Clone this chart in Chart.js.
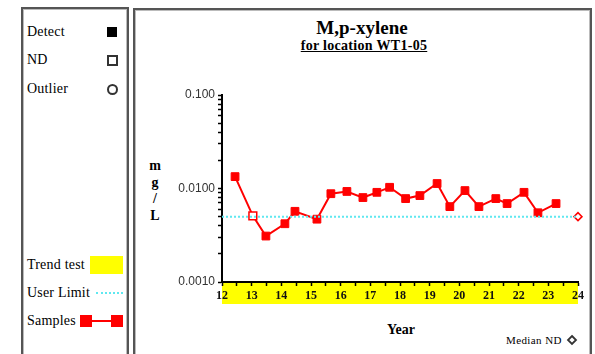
<!DOCTYPE html>
<html>
<head>
<meta charset="utf-8">
<script src="https://cdn.jsdelivr.net/npm/chart.js@4"></script>
<style>
  body { margin: 0; background: #fff; }
  #page { position: relative; width: 595px; height: 354px; overflow: hidden; font-family: "Liberation Serif", "Times New Roman", serif; color: #000; }
  .box { position: absolute; box-sizing: border-box; border: 2px solid #555; box-shadow: inset 0 0 0 1px #bbb; }
  .txt { position: absolute; white-space: nowrap; line-height: 1; }
  .leg { font-size: 14px; left: 27px; transform: translateY(-50%); letter-spacing: 0.2px; }
  canvas { position: absolute; left: 0; top: 0; }
</style>
</head>
<body>
<div id="page">
  <div class="box" style="left:21px;top:7px;width:108px;height:370px;"></div>
  <div class="box" style="left:133px;top:8px;width:459px;height:370px;"></div>

  <!-- legend panel -->
  <div class="txt leg" style="top:32px;">Detect</div>
  <div style="position:absolute;left:107px;top:27px;width:10px;height:10px;background:#000;"></div>
  <div class="txt leg" style="top:60px;">ND</div>
  <div style="position:absolute;left:107px;top:55px;width:7px;height:7px;border:2px solid #333;"></div>
  <div class="txt leg" style="top:89px;">Outlier</div>
  <div style="position:absolute;left:107px;top:84px;width:7px;height:7px;border:2px solid #333;border-radius:50%;"></div>

  <div class="txt leg" style="top:265px;">Trend test</div>
  <div style="position:absolute;left:90px;top:256px;width:33px;height:18px;background:#ffff00;"></div>
  <div class="txt leg" style="top:293px;">User Limit</div>
  <div style="position:absolute;left:96px;top:292px;width:27px;height:0;border-top:2px dotted #5ee8f0;"></div>
  <div class="txt leg" style="top:321px;">Samples</div>
  <div style="position:absolute;left:90px;top:320px;width:28px;height:2px;background:#ff0000;"></div>
  <div style="position:absolute;left:80px;top:315px;width:12px;height:12px;background:#ff0000;"></div>
  <div style="position:absolute;left:111px;top:315px;width:12px;height:12px;background:#ff0000;"></div>

  <!-- titles -->
  <div class="txt" style="left:362px;top:27px;transform:translate(-50%,-50%);font-size:19px;font-weight:bold;">M,p-xylene</div>
  <div class="txt" style="left:364px;top:46px;transform:translate(-50%,-50%);font-size:14px;font-weight:bold;text-decoration:underline;letter-spacing:0.3px;">for location WT1-05</div>

  <!-- y axis title, stacked -->
  <div class="txt" style="left:155px;top:166px;transform:translate(-50%,-50%);font-size:14px;font-weight:bold;">m</div>
  <div class="txt" style="left:155px;top:183px;transform:translate(-50%,-50%);font-size:14px;font-weight:bold;">g</div>
  <div class="txt" style="left:155px;top:199px;transform:translate(-50%,-50%);font-size:14px;font-weight:bold;">/</div>
  <div class="txt" style="left:155px;top:216px;transform:translate(-50%,-50%);font-size:14px;font-weight:bold;">L</div>

  <div class="txt" style="left:401px;top:330px;transform:translate(-50%,-50%);font-size:14px;font-weight:bold;">Year</div>
  <div class="txt" style="left:506px;top:340px;transform:translateY(-50%);font-size:11px;letter-spacing:0.4px;">Median ND</div>

  <canvas id="chart" width="595" height="354"></canvas>
</div>

<script>
// sample dates (decimal year, 2-digit) and concentrations in mg/L
const sampleYears = [12.44, 13.04, 13.48, 14.12, 14.46, 15.20, 15.67, 16.21, 16.75, 17.22, 17.65,
                     18.19, 18.67, 19.25, 19.68, 20.19, 20.66, 21.23, 21.61, 22.18, 22.65, 23.26];
const sampleValues = [0.0134, 0.0051, 0.0031, 0.0042, 0.0057, 0.0047, 0.0088, 0.0093, 0.0080, 0.0091, 0.0103,
                      0.0078, 0.0084, 0.0113, 0.0064, 0.0095, 0.0064, 0.0078, 0.0069, 0.0091, 0.0055, 0.0069];
// true = non-detect
const sampleND = [false, true, false, false, false, false, false, false, false, false, false,
                  false, false, false, false, false, false, false, false, false, false, false];

const userLimitYears = [12, 24];
const userLimitValue = 0.005;
const medianNDYear = 24;
const medianNDValue = 0.005;

const xMin = 12, xMax = 24, xStep = 0.5;
const yTicks = [0.001, 0.002, 0.003, 0.004, 0.005, 0.006, 0.007, 0.008, 0.009,
                0.01, 0.02, 0.03, 0.04, 0.05, 0.06, 0.07, 0.08, 0.09, 0.1];
const yTickLabels = { 0.001: '0.0010', 0.01: '0.0100', 0.1: '0.100' };

const xTicks = [];
for (let v = xMin; v <= xMax; v += xStep) xTicks.push(v);

const samplePoints = sampleYears.map((x, i) => ({ x, y: sampleValues[i] }));

// yellow band under the x axis = trend test period
const trendBand = {
    id: 'trendBand',
    beforeDraw(chart) {
        const { ctx, chartArea } = chart;
        ctx.save();
        ctx.fillStyle = '#ffff00';
        ctx.fillRect(chartArea.left, chartArea.bottom, chartArea.right - chartArea.left, 22);
        ctx.restore();
    }
};

const medianMark = {
    id: 'medianMark',
    afterDraw(chart) {
        // small diamond after the "Median ND" note
        const ctx = chart.ctx;
        ctx.save();
        ctx.strokeStyle = '#333';
        ctx.lineWidth = 1.8;
        ctx.beginPath();
        ctx.moveTo(572, 336); ctx.lineTo(576, 340); ctx.lineTo(572, 344); ctx.lineTo(568, 340);
        ctx.closePath();
        ctx.stroke();
        ctx.restore();
    }
};

new Chart(document.getElementById('chart'), {
    type: 'line',
    data: {
        datasets: [
            {
                label: 'User Limit',
                data: userLimitYears.map(x => ({ x, y: userLimitValue })),
                borderColor: '#5ee8f0',
                borderWidth: 2,
                borderDash: [2, 2],
                pointRadius: 0,
            },
            {
                label: 'Samples',
                data: samplePoints,
                borderColor: '#ff0000',
                borderWidth: 2,
                tension: 0,
                pointStyle: 'rect',
                pointRadius: 5.5,
                pointBorderWidth: sampleND.map(nd => nd ? 1.5 : 1),
                pointBorderColor: '#ff0000',
                pointBackgroundColor: sampleND.map(nd => nd ? '#ffffff' : '#ff0000'),
            },
            {
                label: 'Median ND',
                data: [{ x: medianNDYear, y: medianNDValue }],
                showLine: false,
                pointStyle: 'rectRot',
                pointRadius: 4,
                pointBorderWidth: 1.5,
                pointBorderColor: '#ff0000',
                pointBackgroundColor: '#ffffff',
                clip: false,
            },
        ],
    },
    options: {
        responsive: false,
        animation: false,
        layout: { padding: { top: 95, right: 17, left: 0, bottom: 0 } },
        plugins: { legend: { display: false }, tooltip: { enabled: false } },
        scales: {
            x: {
                type: 'linear',
                min: xMin,
                max: xMax,
                afterFit: s => { s.height = 72; },
                afterBuildTicks: s => { s.ticks = xTicks.map(value => ({ value })); },
                ticks: {
                    autoSkip: false,
                    maxRotation: 0,
                    padding: 3,
                    color: '#111',
                    font: { family: 'Liberation Serif', size: 12, weight: 'bold' },
                    callback: v => Number.isInteger(v) ? String(v) : '',
                },
                grid: { drawOnChartArea: false, tickLength: 4, color: '#000', tickWidth: 1.5 },
                border: { color: '#000', width: 2 },
            },
            y: {
                type: 'logarithmic',
                min: 0.001,
                max: 0.1,
                afterFit: s => { s.width = 222; },
                afterBuildTicks: s => { s.ticks = yTicks.map(value => ({ value })); },
                ticks: {
                    autoSkip: false,
                    padding: 3,
                    color: '#333',
                    font: { family: 'Liberation Sans', size: 12 },
                    callback: v => yTickLabels[v] || '',
                },
                grid: { drawOnChartArea: false, tickLength: 4, color: '#000', tickWidth: 1.5 },
                border: { color: '#000', width: 2 },
            },
        },
    },
    plugins: [trendBand, medianMark],
});
</script>
</body>
</html>
